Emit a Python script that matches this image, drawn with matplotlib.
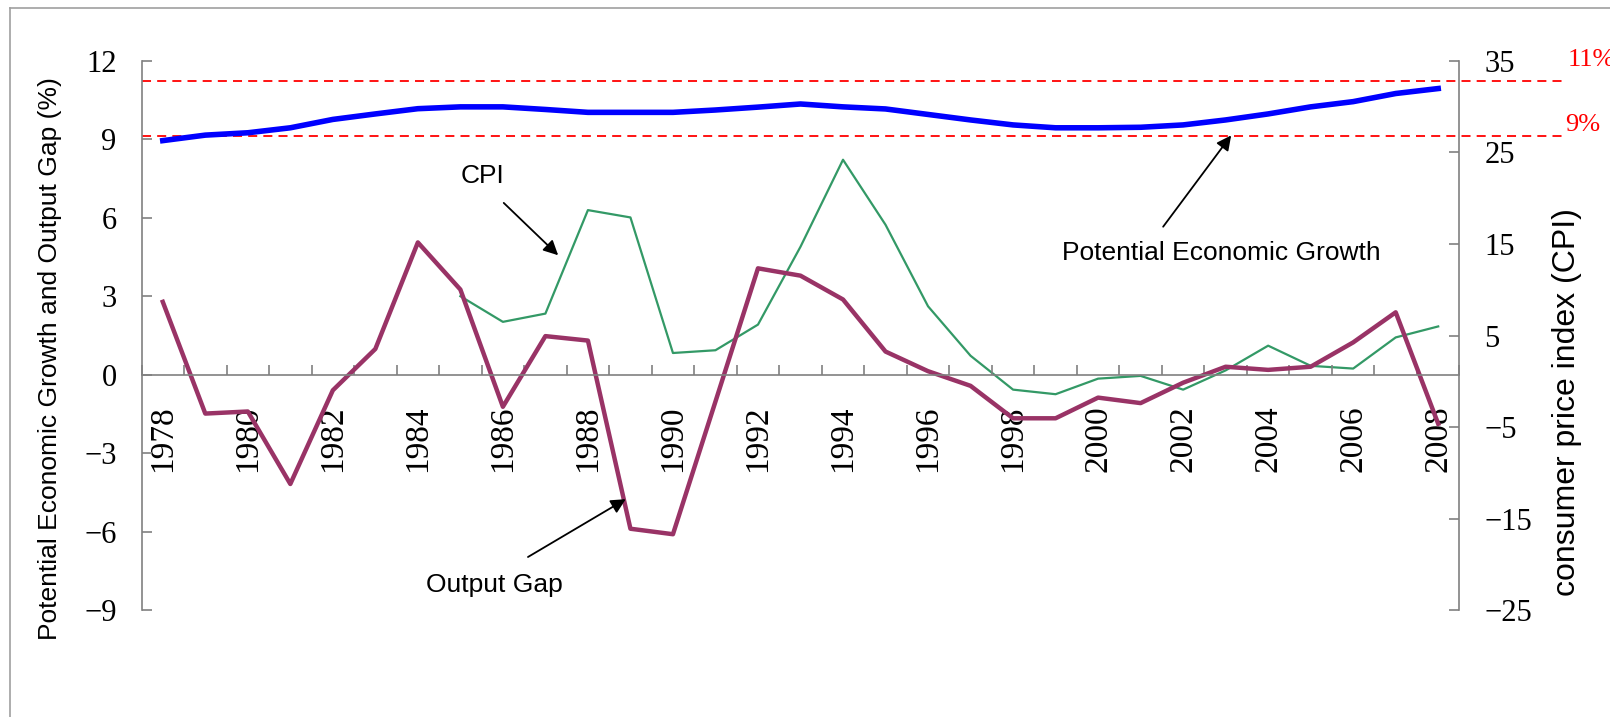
import numpy as np
import matplotlib
matplotlib.use('Agg')
import matplotlib.pyplot as plt
from matplotlib.lines import Line2D
import matplotlib.transforms as mtransforms

years = list(range(1978, 2009))

# potential economic growth (%), left axis
potential = [8.95, 9.16, 9.25, 9.44, 9.76, 9.97, 10.17, 10.24, 10.24, 10.14,
             10.03, 10.03, 10.03, 10.12, 10.23, 10.35, 10.24, 10.16, 9.95, 9.74,
             9.55, 9.44, 9.44, 9.46, 9.55, 9.74, 9.97, 10.24, 10.44, 10.75, 10.94]

# output gap (%), left axis
output_gap = [2.79, -1.48, -1.40, -4.17, -0.59, 0.99, 5.06, 3.26, -1.22, 1.48,
              1.31, -5.88, -6.09, -1.02, 4.07, 3.79, 2.88, 0.89, 0.14, -0.42,
              -1.66, -1.66, -0.87, -1.08, -0.30, 0.31, 0.19, 0.31, 1.24, 2.39, -1.87]

# consumer price index, right axis (no data before 1985)
cpi = [np.nan] * 7 + [9.3, 6.5, 7.4, 18.7, 17.9, 3.1, 3.4, 6.2, 14.7, 24.2,
                      17.1, 8.2, 2.8, -0.9, -1.4, 0.3, 0.6, -0.9, 1.2, 3.9,
                      1.7, 1.4, 4.8, 6.0]

ref_levels = [11.24, 9.11]
ref_labels = ['11%', '9%']

left_ticks = [12, 9, 6, 3, 0, -3, -6, -9]
right_ticks = [35, 25, 15, 5, -5, -15, -25]

serif = 'Liberation Serif'
sans = 'Liberation Sans'
gray = '#808080'

fig = plt.figure(figsize=(16.1, 7.17), dpi=100)
ax = fig.add_axes([0.0879, 0.1487, 0.8186, 0.7665])
ax2 = ax.twinx()
ax.set_zorder(ax2.get_zorder() + 1)
ax.patch.set_visible(False)

x = np.arange(len(years))
ax2.plot(x, cpi, color='#339966', lw=1.6)
ax.plot(x, potential, color='#0000ff', lw=4)
ax.plot(x, output_gap, color='#993366', lw=3.2)

# axes styling
ax.set_xlim(-0.5, len(years) - 0.5)
ax.set_ylim(-9, 12)
ax2.set_ylim(-25, 35)
ax.set_yticks(left_ticks)
ax2.set_yticks(right_ticks)

for s in ['top', 'right']:
    ax.spines[s].set_visible(False)
for s in ['top', 'left', 'bottom']:
    ax2.spines[s].set_visible(False)
ax.spines['left'].set_color(gray)
ax.spines['left'].set_linewidth(1.2)
ax.spines['bottom'].set_position(('data', 0))
ax.spines['bottom'].set_color(gray)
ax.spines['bottom'].set_linewidth(1.2)
ax2.spines['right'].set_color(gray)
ax2.spines['right'].set_linewidth(1.2)

ax.set_xticks(x[::2])
ax.set_xticklabels([str(y) for y in years[::2]], rotation=90,
                   fontfamily=serif, fontsize=24)
ax.set_xticks(np.arange(-0.5, len(years), 1.0), minor=True)
ax.tick_params(axis='x', which='major', length=0, pad=22)
ax.tick_params(axis='x', which='minor', direction='in', length=7.5,
               color=gray, width=1.2)
ax.tick_params(axis='y', direction='in', length=7.5, color=gray, width=1.2,
               pad=18, labelsize=22)
ax2.tick_params(axis='y', direction='in', length=7.5, color=gray, width=1.2,
                pad=18, labelsize=22)
for lab in ax.get_yticklabels() + ax2.get_yticklabels():
    lab.set_fontfamily(serif)

# reference lines running past the right axis
trans = mtransforms.blended_transform_factory(ax.transAxes, ax.transData)
for lvl, lab in zip(ref_levels, ref_labels):
    ax.plot([0, 1.0775], [lvl, lvl], transform=trans, color='red', lw=1.3,
            ls=(0, (5, 3.4)), clip_on=False, zorder=1)
ax.text(1.0823, 12.03, ref_labels[0], transform=trans, color='red',
        fontfamily=serif, fontsize=19, va='center', ha='left')
ax.text(1.0800, 9.54, ref_labels[1], transform=trans, color='red',
        fontfamily=serif, fontsize=19, va='center', ha='left')

# annotations
arrow = dict(arrowstyle='-|>', color='black', lw=1.3, mutation_scale=22,
             shrinkA=0, shrinkB=0)
ax.text(7.51, 7.58, 'CPI', fontfamily=sans, fontsize=19, ha='center', va='center')
ax.annotate('', xy=(9.30, 4.57), xytext=(8.02, 6.57), arrowprops=arrow)
ax.text(7.81, -8.03, 'Output Gap', fontfamily=sans, fontsize=19,
        ha='center', va='center')
ax.annotate('', xy=(10.89, -4.75), xytext=(8.59, -6.96), arrowprops=arrow)
ax.text(24.91, 4.65, 'Potential Economic Growth', fontfamily=sans, fontsize=19,
        ha='center', va='center')
ax.annotate('', xy=(25.13, 9.15), xytext=(23.53, 5.66), arrowprops=arrow)

# axis titles
fig.text(50 / 1610, 1 - 359 / 717, 'Potential Economic Growth and Output Gap (%)',
         rotation=90, fontfamily=sans, fontsize=19, ha='center', va='center')
fig.text(1567 / 1610, 1 - 402 / 717, 'consumer price index (CPI)',
         rotation=90, fontfamily=sans, fontsize=23, ha='center', va='center')

# outer chart frame (extends past the image edges)
fig.add_artist(Line2D([0.006, 1.0], [0.9886, 0.9886], color='#a0a0a0', lw=1.2))
fig.add_artist(Line2D([0.006, 0.006], [0.0, 0.9886], color='#a0a0a0', lw=1.2))

fig.savefig('out.png', dpi=100)
